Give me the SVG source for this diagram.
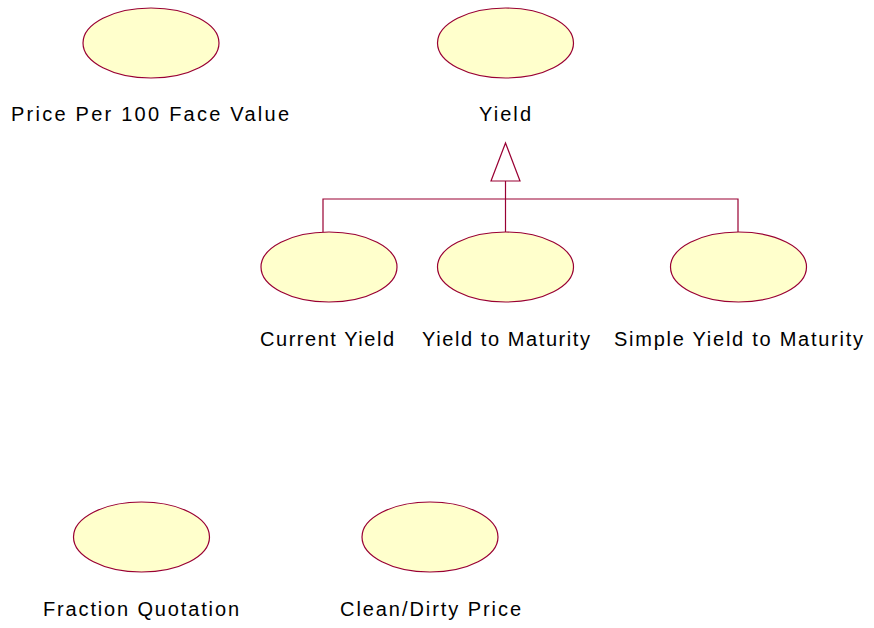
<svg xmlns="http://www.w3.org/2000/svg" width="874" height="628" viewBox="0 0 874 628">
<style>
.n{fill:#ffffcc;stroke:#990033;stroke-width:1.2}
.c{fill:none;stroke:#990033;stroke-width:1.2}
.t{font-family:"Liberation Sans",Arial,sans-serif;font-size:20px;fill:#000}
</style>
<rect width="874" height="628" fill="#fff"/>
<g id="connectors">
<polyline class="c" points="323,232 323,199 738,199 738,232"/>
<line class="c" x1="505.5" y1="181" x2="505.5" y2="232"/>
<polygon class="c" points="505.5,143 491,181 520,181" fill="#fff"/>
</g>
<g id="price100"><ellipse class="n" cx="151" cy="43" rx="68" ry="35"/><text class="t" x="11" y="121" textLength="278" lengthAdjust="spacing">Price Per 100 Face Value</text></g>
<g id="yield"><ellipse class="n" cx="505.5" cy="43" rx="68" ry="35"/><text class="t" x="479" y="121" textLength="52" lengthAdjust="spacing">Yield</text></g>
<g id="currentYield"><ellipse class="n" cx="329" cy="267" rx="68" ry="35"/><text class="t" x="260" y="346" textLength="134" lengthAdjust="spacing">Current Yield</text></g>
<g id="ytm"><ellipse class="n" cx="505.5" cy="267" rx="68" ry="35"/><text class="t" x="422" y="346" textLength="168" lengthAdjust="spacing">Yield to Maturity</text></g>
<g id="simpleYtm"><ellipse class="n" cx="738.5" cy="267" rx="68" ry="35"/><text class="t" x="614" y="346" textLength="249" lengthAdjust="spacing">Simple Yield to Maturity</text></g>
<g id="fraction"><ellipse class="n" cx="141.5" cy="537" rx="68" ry="35"/><text class="t" x="43" y="616" textLength="196" lengthAdjust="spacing">Fraction Quotation</text></g>
<g id="cleanDirty"><ellipse class="n" cx="430" cy="537" rx="68" ry="35"/><text class="t" x="340" y="616" textLength="181" lengthAdjust="spacing">Clean/Dirty Price</text></g>
</svg>
